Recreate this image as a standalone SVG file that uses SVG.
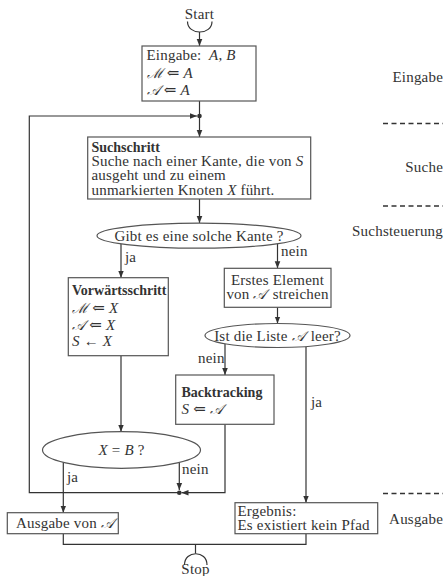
<svg xmlns="http://www.w3.org/2000/svg" width="445" height="576" viewBox="0 0 445 576">
<defs>
<marker id="ah" viewBox="0 0 10 10" refX="10" refY="5" markerWidth="7" markerHeight="7" markerUnits="userSpaceOnUse" orient="auto">
<path d="M0,1 L10,5 L0,9 Z" fill="#333"/>
</marker>
<style>
text{font-family:"Liberation Serif","DejaVu Serif",serif;font-size:15px;letter-spacing:0.2px;fill:#333}
.b{font-weight:bold;font-size:14px;letter-spacing:0}
.i{font-style:italic}
.m{font-family:"DejaVu Serif","Liberation Serif",serif;font-style:italic;font-size:14px}
.box{fill:#fff;stroke:#555;stroke-width:1.2}
.c{fill:none;stroke:#333;stroke-width:1.2}
.ca{fill:none;stroke:#333;stroke-width:1.2;marker-end:url(#ah)}
.dash{stroke:#333;stroke-width:1.3;stroke-dasharray:5,3.5}
.lab{text-anchor:end}
</style>
</defs>
<rect width="445" height="576" fill="#fff"/>

<g id="connectors">
<path class="c" d="M187.5,21.5 C187.5,35.5 212,35.5 212,21.5"/>
<path class="ca" d="M199.5,32 V46"/>
<path class="c" d="M199.5,101 V116"/>
<path class="ca" d="M199.5,116 V137"/>
<path class="ca" d="M199.5,199 V223"/>
<path class="ca" d="M121,243.5 V277.7"/>
<path class="ca" d="M277.5,243.5 V268.3"/>
<path class="ca" d="M277.5,307.3 V323.5"/>
<path class="ca" d="M225,343.8 V375"/>
<path class="ca" d="M306,346.5 V502.7"/>
<path class="ca" d="M121,355.7 V431.7"/>
<path class="ca" d="M63.3,462.2 V512.7"/>
<path class="ca" d="M179.3,462.3 V490"/>
<path class="ca" d="M225,424.3 V492.7 H181.5"/>
<path class="ca" d="M179.3,492.7 H29.3 V116 H197"/>
<circle cx="199.5" cy="116" r="2.3" fill="#333"/>
<circle cx="179.3" cy="492.7" r="2.3" fill="#333"/>
<path class="c" d="M63.3,533.7 V544.3 H306 V533.7"/>
<path class="c" d="M195.5,544.3 V553.5"/>
<path class="c" d="M184.5,565 C184.5,550 207,550 207,565"/>
</g>

<g id="start"><text x="199.5" y="19" text-anchor="middle">Start</text></g>

<g id="eingabe">
<rect class="box" x="142" y="46" width="114" height="55"/>
<text x="146.5" y="60">Eingabe:<tspan x="209" class="i">A</tspan>, <tspan class="i">B</tspan></text>
<text x="146.5" y="78"><tspan class="m">ℳ</tspan> ⇐ <tspan class="i">A</tspan></text>
<text x="146.5" y="95"><tspan class="m">𝒜</tspan> ⇐ <tspan class="i">A</tspan></text>
</g>

<g id="suchschritt">
<rect class="box" x="87.7" y="137" width="223" height="62"/>
<text x="91.5" y="152" class="b">Suchschritt</text>
<text x="91.5" y="166">Suche nach einer Kante, die von <tspan class="i">S</tspan></text>
<text x="91.5" y="180">ausgeht und zu einem</text>
<text x="91.5" y="194.5">unmarkierten Knoten <tspan class="i">X</tspan> führt.</text>
</g>

<g id="frage1">
<ellipse class="box" cx="199" cy="235.7" rx="102" ry="12.5"/>
<text x="199" y="240.5" text-anchor="middle">Gibt es eine solche Kante ?</text>
</g>
<text x="125" y="262">ja</text>
<text x="281" y="256">nein</text>

<g id="vorwaerts">
<rect class="box" x="68.3" y="277.7" width="100" height="78"/>
<text x="72" y="294.5" class="b">Vorwärtsschritt</text>
<text x="72" y="313"><tspan class="m">ℳ</tspan> ⇐ <tspan class="i">X</tspan></text>
<text x="72" y="329.5"><tspan class="m">𝒜</tspan> ⇐ <tspan class="i">X</tspan></text>
<text x="72" y="345.5"><tspan class="i">S</tspan> ← <tspan class="i">X</tspan></text>
</g>

<g id="streichen">
<rect class="box" x="224.3" y="268.3" width="106.7" height="39"/>
<text x="277.5" y="285" text-anchor="middle">Erstes Element</text>
<text x="277.5" y="299" text-anchor="middle">von <tspan class="m">𝒜</tspan><tspan dx="2"> streichen</tspan></text>
</g>

<g id="frage2">
<ellipse class="box" cx="277.5" cy="335.5" rx="72.5" ry="12"/>
<text x="277.5" y="340.5" text-anchor="middle">Ist die Liste <tspan class="m">𝒜</tspan><tspan dx="2"> leer?</tspan></text>
</g>
<text x="198" y="362.5">nein</text>
<text x="311" y="407">ja</text>

<g id="backtracking">
<rect class="box" x="175.7" y="375" width="98.3" height="49.3"/>
<text x="181.5" y="396.5" class="b">Backtracking</text>
<text x="181.5" y="414"><tspan class="i">S</tspan> ⇐ <tspan class="m">𝒜</tspan></text>
</g>

<g id="frage3">
<ellipse class="box" cx="121.5" cy="450" rx="79" ry="18.3"/>
<text x="121.5" y="454.5" text-anchor="middle"><tspan class="i">X</tspan> = <tspan class="i">B</tspan> ?</text>
</g>
<text x="67" y="482">ja</text>
<text x="182" y="474">nein</text>

<g id="ausgabe">
<rect class="box" x="7.3" y="512.7" width="111" height="21"/>
<text x="16" y="527.5">Ausgabe von <tspan class="m">𝒜</tspan></text>
</g>

<g id="ergebnis">
<rect class="box" x="235" y="502.7" width="142.7" height="31"/>
<text x="237.5" y="516">Ergebnis:</text>
<text x="237.5" y="530">Es existiert kein Pfad</text>
</g>

<g id="stop"><text x="195.5" y="574" text-anchor="middle">Stop</text></g>

<g id="phasen">
<text x="443" y="82" class="lab">Eingabe</text>
<line class="dash" x1="383" y1="123.5" x2="443" y2="123.5"/>
<text x="443" y="172" class="lab">Suche</text>
<line class="dash" x1="383" y1="206" x2="443" y2="206"/>
<text x="443" y="236" class="lab">Suchsteuerung</text>
<line class="dash" x1="383" y1="493.5" x2="443" y2="493.5"/>
<text x="443" y="524" class="lab">Ausgabe</text>
</g>
</svg>
